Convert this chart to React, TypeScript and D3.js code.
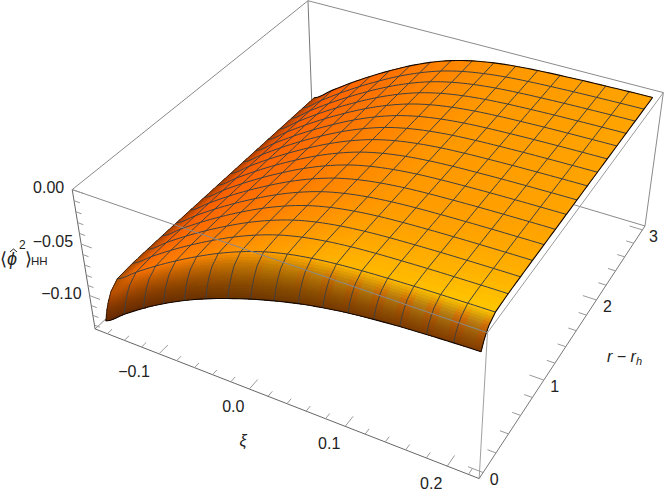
import React from "react";
import * as d3 from "d3";

// Axis ranges of the plot box
const xiRange = [-0.1745, 0.23];
const rRange = [-0.06, 3.06];
const zRange = [-0.134, 0.0];
const xiSpan = [-1 / 6, 2 / 9];
const rSpan = [0, 3];
const xiTicks = [-0.1, 0, 0.1, 0.2];
const xiTickLabels = ["\u22120.1", "0.0", "0.1", "0.2"];
const rTicks = [0, 1, 2, 3];
const zTicks = [0, -0.05, -0.1];
const zTickLabels = ["0.00", "\u22120.05", "\u22120.10"];

// Surface height along xi, on the 17 mesh nodes, at r = 0 and r = 3
const zFront = [-0.128, -0.113, -0.099, -0.0865, -0.0755, -0.066, -0.0578, -0.0505, -0.0442, -0.0388, -0.0345, -0.0312, -0.0288, -0.027, -0.0257, -0.0247, -0.024];
const zBack = [-0.0965, -0.0825, -0.069, -0.0565, -0.045, -0.0345, -0.0255, -0.0182, -0.013, -0.0095, -0.0072, -0.0058, -0.0049, -0.0042, -0.0037, -0.0033, -0.003];
// Rise from front to back along r
const rKnots = [0, 0.03, 0.06, 0.1, 0.1875, 0.375, 0.75, 1.5, 2.25, 3];
const rRise = [0, 0.3, 0.5, 0.7, 0.9, 0.95, 0.97, 0.985, 0.995, 1];
// Tint of the front wall
const wallTint = [0.1, 0.3, 0.1, 0.3, 0.2, 0.35, 0.2, 0.4, 0.3, 0.5, 0.4, 0.6, 0.5, 0.7, 0.4, 0.8, 0.5, 0.8, 0.2, 0.8, 0.1, 0.85, 0.1, 0.85, 0.1, 0.85, 0.1, 0.9, 0.15, 0.9, 0.1, 0.8, 0.1];

const corners: [number[], number[]][] = [
  [[0, 0, 0], [94, 328]],
  [[1, 0, 0], [480, 478]],
  [[0, 0, 1], [73, 190]],
  [[1, 0, 1], [487, 334]],
  [[1, 1, 0], [645, 226]],
  [[1, 1, 1], [663, 92]],
  [[0, 1, 1], [308, 0]],
  [[0, 1, 0], [313, 128]],
];

function solveCamera() {
  const A: number[][] = [], b: number[] = [];
  for (const [[X, Y, Z], [x0, y0]] of corners) {
    const x = x0 / 500, y = y0 / 500;
    A.push([X, Y, Z, 1, 0, 0, 0, 0, -x * X, -x * Y, -x * Z]); b.push(x);
    A.push([0, 0, 0, 0, X, Y, Z, 1, -y * X, -y * Y, -y * Z]); b.push(y);
  }
  const n = 11;
  const M = d3.range(n).map((i) => [
    ...d3.range(n).map((j) => d3.sum(A, (r) => r[i] * r[j])),
    d3.sum(A, (r, k) => r[i] * b[k]),
  ]);
  for (let c = 0; c < n; c++) {
    let p = c;
    for (let r = c + 1; r < n; r++) if (Math.abs(M[r][c]) > Math.abs(M[p][c])) p = r;
    [M[c], M[p]] = [M[p], M[c]];
    for (let r = 0; r < n; r++) {
      if (r === c) continue;
      const f = M[r][c] / M[c][c];
      for (let k = c; k <= n; k++) M[r][k] -= f * M[c][k];
    }
  }
  return M.map((row, i) => row[n] / row[i]);
}
const cam = solveCamera();
const project3 = (X: number, Y: number, Z: number): [number, number] => {
  const d = cam[8] * X + cam[9] * Y + cam[10] * Z + 1;
  return [
    (500 * (cam[0] * X + cam[1] * Y + cam[2] * Z + cam[3])) / d,
    (500 * (cam[4] * X + cam[5] * Y + cam[6] * Z + cam[7])) / d,
  ];
};

const uS = d3.scaleLinear().domain(xiRange).range([0, 1]);
const vS = d3.scaleLinear().domain(rRange).range([0, 1]);
const wS = d3.scaleLinear().domain(zRange).range([0, 1]);
const riseS = d3.scaleLinear().domain(rKnots).range(rRise);

function cr(a: number[], t: number) {
  const n = a.length - 1;
  const i = Math.min(Math.floor(t), n - 1);
  const f = t - i;
  const p0 = a[Math.max(i - 1, 0)], p1 = a[i], p2 = a[i + 1], p3 = a[Math.min(i + 2, n)];
  return 0.5 * (2 * p1 + (p2 - p0) * f + (2 * p0 - 5 * p1 + 4 * p2 - p3) * f * f + (3 * p1 - p0 - 3 * p2 + p3) * f * f * f);
}

const CELLS = 16;
const SUB = 4;
const uNodes = d3.range(CELLS * SUB + 1).map((k) => k / SUB); // index space 0..16
const meshR = d3.range(CELLS + 1).map((j) => rSpan[0] + ((rSpan[1] - rSpan[0]) * j) / CELLS);
const rNodeSet = new Set<number>();
const allKnots = Array.from(new Set([...rKnots, ...meshR])).sort((a, b) => a - b);
allKnots.forEach((k, i) => {
  if (i === 0) { rNodeSet.add(k); return; }
  const p = allKnots[i - 1];
  const m = k < 0.2 ? 5 : 3;
  for (let s = 1; s <= m; s++) rNodeSet.add(p + ((k - p) * s) / m);
});
const rNodes = Array.from(rNodeSet).sort((a, b) => a - b);

const xiOf = (t: number) => xiSpan[0] + ((xiSpan[1] - xiSpan[0]) * t) / CELLS;
const surfZ = (t: number, r: number) => {
  const a = cr(zFront, t), b = cr(zBack, t);
  return a + (b - a) * riseS(r);
};
const P = (t: number, r: number) => project3(uS(xiOf(t)), vS(r), wS(surfZ(t, r)));

const topRamp = d3.scaleLinear<string>()
  .domain([0, 0.5, 1, 2, 4, 7, 10, 16])
  .range(["#a84000", "#d85000", "#f45c00", "#ff6600", "#ff7000", "#ff8400", "#ff9800", "#ffa400"])
  .interpolate(d3.interpolateRgb);

const wallBottom = d3.scaleLinear<string>().domain([0, 8, 16]).range(["#642800", "#6e3700", "#823c00"]);
const wallMidWarm = d3.scaleLinear<string>().domain([0, 8, 16]).range(["#b95000", "#c06a00", "#d76405"]);
const wallMidCool = d3.scaleLinear<string>().domain([0, 8, 16]).range(["#b95000", "#b87e05", "#af8719"]);

function colorAt(t: number, r: number) {
  const base = d3.rgb(topRamp(t));
  const near = Math.max(0, 1 - r / 1.2);
  const g = base.g + near * near * (22 + (28 * t) / 16);
  const top = d3.rgb(base.r, Math.min(255, g), 0);
  if (r >= 0.1875) return top.formatHex();
  const f = r / 0.1875; // 0 bottom of wall, 1 top
  const tint = cr(wallTint, t * 2);
  const mid = d3.interpolateRgb(wallMidWarm(t), wallMidCool(t))(tint);
  const c = f < 0.5
    ? d3.interpolateRgb(wallBottom(t), mid)(f / 0.5)
    : d3.interpolateRgb(mid, top)((f - 0.5) / 0.5);
  return d3.rgb(c).formatHex();
}

type Poly = { pts: [number, number][]; fill: string };
const polys: Poly[] = [];
const area = (p: [number, number][]) => d3.polygonArea(p);
const faceRef = area([P(8, 1), P(9, 1), P(9, 1.2), P(8, 1.2)]) > 0;
for (let j = rNodes.length - 2; j >= 0; j--) {
  for (let i = 0; i < uNodes.length - 1; i++) {
    const t0 = uNodes[i], t1 = uNodes[i + 1], r0 = rNodes[j], r1 = rNodes[j + 1];
    const pts = [P(t0, r0), P(t1, r0), P(t1, r1), P(t0, r1)];
    polys.push({ pts, fill: colorAt((t0 + t1) / 2, (r0 + r1) / 2) });
  }
}
const isFront = (t: number, r: number) => {
  const dt = 0.05, dr = 0.02;
  const t0 = Math.min(t, 15.95);
  return area([P(t0, r), P(t0 + dt, r), P(t0 + dt, r + dr), P(t0, r + dr)]) > 0 === faceRef;
};

const line = d3.line();
const meshPaths: string[] = [];
for (let i = 1; i < CELLS; i++) {
  meshPaths.push(line(rNodes.map((r) => P(i, r))) as string);
}
for (let j = 1; j < CELLS; j++) {
  const segs = uNodes.filter((t) => isFront(t, meshR[j]));
  meshPaths.push(line(segs.map((t) => P(t, meshR[j]))) as string);
}
const boundary = [
  line(uNodes.map((t) => P(t, 0))) as string,
  line(rNodes.map((r) => P(16, r))) as string,
  line(uNodes.map((t) => P(t, rSpan[1]))) as string,
];
const silhouette = line(rNodes.map((r) => {
  let t = 0;
  while (t < 3 && !isFront(t, r)) t += 0.05;
  return P(t, r);
})) as string;

const G = "#8a8a8a";
const L = (a: number[], b: number[], stroke = G, w = 1) => {
  const p = project3(a[0], a[1], a[2]), q = project3(b[0], b[1], b[2]);
  return <line x1={p[0]} y1={p[1]} x2={q[0]} y2={q[1]} stroke={stroke} strokeWidth={w} />;
};

const FONT = "'Liberation Sans', Arial, sans-serif";
const xiMinor = d3.range(-0.16, 0.2201, 0.02);
const rMinor = d3.range(0, 3.01, 0.2);
const zMinor = d3.range(0, -0.131, -0.01);
const approx = (a: number[], v: number) => a.some((x) => Math.abs(x - v) < 1e-6);

export default function App() {
  return (
    <svg width={664} height={500} style={{ position: "absolute", left: 0, top: 0, background: "#fff" }} fontFamily={FONT}>
      <g>
        {L([0, 1, 1], [1, 1, 1])}
        {L([0, 1, 1], [0, 0, 1])}
        {L([0, 1, 1], [0, 1, 0], "#777")}
        {L([0, 1, 0], [1, 1, 0])}
        {L([0, 1, 0], [0, 0, 0])}
        {L([1, 1, 0], [1, 1, 1])}
      </g>
      <g shapeRendering="crispEdges">
        {polys.map((p, k) => (
          <polygon key={k} points={p.pts.map((q) => `${q[0].toFixed(2)},${q[1].toFixed(2)}`).join(" ")} fill={p.fill} stroke={p.fill} strokeWidth={0.6} />
        ))}
      </g>
      <g fill="none" stroke="#404040" strokeWidth={1}>
        {meshPaths.map((d, k) => <path key={k} d={d} />)}
      </g>
      <g fill="none" stroke="#140800" strokeWidth={1.1}>
        {boundary.map((d, k) => <path key={k} d={d} />)}
        <path d={silhouette} strokeWidth={0.9} strokeOpacity={0.8} />
      </g>
      <g>
        {L([0, 0, 1], [1, 0, 1])}
        {L([1, 0, 1], [1, 1, 1], "#9a9a9a")}
        {L([1, 0, 0], [1, 0, 1], "#a0a0a0")}
        {L([0, 0, 0], [1, 0, 0], "#666")}
        {L([1, 0, 0], [1, 1, 0], "#777")}
        {L([0, 0, 0], [0, 0, 1], "#666")}
      </g>
      <g>
        {xiMinor.map((x, k) => {
          const major = approx(xiTicks, x);
          return <g key={k}>{L([uS(x), 0, 0], [uS(x), major ? 0.035 : 0.018, 0], "#999")}</g>;
        })}
        {rMinor.map((r, k) => {
          const major = approx(rTicks, r);
          return <g key={k}>{L([1, vS(r), 0], [major ? 0.965 : 0.98, vS(r), 0], "#999")}</g>;
        })}
        {zMinor.map((z, k) => {
          const major = approx(zTicks, z);
          return <g key={k}>{L([0, 0, wS(z)], [major ? 0.03 : 0.016, 0, wS(z)], "#999")}</g>;
        })}
      </g>
      <g fontSize={16} fill="#222">
        {xiTicks.map((x, k) => {
          const p = project3(uS(x), 0, 0);
          return <text key={k} x={p[0] + (x < 0 ? -25 : -16)} y={p[1] + 23} textAnchor="middle">{xiTickLabels[k]}</text>;
        })}
        {rTicks.map((r, k) => {
          const p = project3(1, vS(r), 0);
          return <text key={k} x={p[0] + 11} y={p[1] + 12} textAnchor="middle">{r}</text>;
        })}
        {zTicks.map((z, k) => {
          const p = project3(0, 0, wS(z));
          return <text key={k} x={p[0] - 8} y={p[1] + 3} textAnchor="end">{zTickLabels[k]}</text>;
        })}
      </g>
      <text x={243} y={446} fontSize={16} fontStyle="italic" textAnchor="middle" fill="#222">ξ</text>
      <text x={607} y={362} fontSize={16} fill="#222" fontStyle="italic">r − r<tspan fontSize={11} dy={3}>h</tspan></text>
      <g fill="#222">
        <text x={0} y={265} fontSize={18}>⟨</text>
        <text x={7} y={265} fontSize={18} fontStyle="italic">ϕ</text>
        <path d="M10,252 L13.5,249 L17,252" fill="none" stroke="#222" strokeWidth={1} />
        <text x={19} y={249} fontSize={12}>2</text>
        <text x={25} y={265} fontSize={18}>⟩</text>
        <text x={31} y={265} fontSize={11.5}>HH</text>
      </g>
    </svg>
  );
}
